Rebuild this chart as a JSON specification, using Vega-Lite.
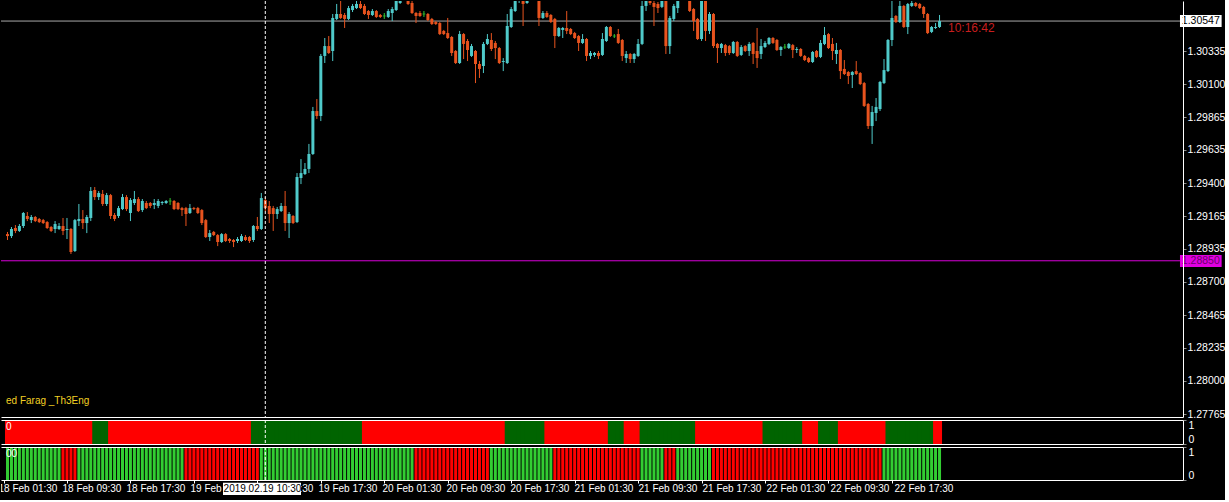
{
  "$schema": "https://vega.github.io/schema/vega-lite/v6.json",
  "background": "#000000",
  "padding": 0,
  "autosize": {"type": "pad"},
  "spacing": 3,
  "bounds": "flush",
  "resolve": {"scale": {"color": "independent"}},
  "config": {
    "view": {"stroke": null},
    "axis": {"grid": false, "labelFont": "Liberation Sans", "domainWidth": 1},
    "text": {"font": "Liberation Sans"}
  },
  "data": {
    "format": {"parse": {"t": "utc:'%Y-%m-%d %H:%M'"}},
    "values": [
      {"t":"2019-02-18 02:00","o":1.29039,"h":1.29054,"l":1.28997,"c":1.29025,"a":0,"b":1},
      {"t":"2019-02-18 02:30","o":1.29025,"h":1.29089,"l":1.29011,"c":1.29075,"a":0,"b":1},
      {"t":"2019-02-18 03:00","o":1.29082,"h":1.29103,"l":1.29046,"c":1.29061,"a":0,"b":1},
      {"t":"2019-02-18 03:30","o":1.29061,"h":1.29110,"l":1.29054,"c":1.29096,"a":0,"b":1},
      {"t":"2019-02-18 04:00","o":1.29096,"h":1.29195,"l":1.29082,"c":1.29188,"a":0,"b":1},
      {"t":"2019-02-18 04:30","o":1.29167,"h":1.29195,"l":1.29131,"c":1.29146,"a":0,"b":1},
      {"t":"2019-02-18 05:00","o":1.29138,"h":1.29174,"l":1.29117,"c":1.29160,"a":0,"b":1},
      {"t":"2019-02-18 05:30","o":1.29160,"h":1.29167,"l":1.29124,"c":1.29131,"a":0,"b":1},
      {"t":"2019-02-18 06:00","o":1.29146,"h":1.29153,"l":1.29117,"c":1.29124,"a":0,"b":1},
      {"t":"2019-02-18 06:30","o":1.29138,"h":1.29146,"l":1.29110,"c":1.29117,"a":0,"b":1},
      {"t":"2019-02-18 07:00","o":1.29124,"h":1.29131,"l":1.29075,"c":1.29082,"a":0,"b":1},
      {"t":"2019-02-18 07:30","o":1.29089,"h":1.29096,"l":1.29054,"c":1.29061,"a":0,"b":1},
      {"t":"2019-02-18 08:00","o":1.29075,"h":1.29131,"l":1.29046,"c":1.29110,"a":0,"b":1},
      {"t":"2019-02-18 08:30","o":1.29075,"h":1.29117,"l":1.29068,"c":1.29096,"a":0,"b":1},
      {"t":"2019-02-18 09:00","o":1.29096,"h":1.29153,"l":1.29032,"c":1.29061,"a":0,"b":0},
      {"t":"2019-02-18 09:30","o":1.29068,"h":1.29153,"l":1.29004,"c":1.29075,"a":0,"b":0},
      {"t":"2019-02-18 10:00","o":1.29075,"h":1.29082,"l":1.28898,"c":1.28912,"a":0,"b":0},
      {"t":"2019-02-18 10:30","o":1.28919,"h":1.29146,"l":1.28912,"c":1.29138,"a":0,"b":0},
      {"t":"2019-02-18 11:00","o":1.29131,"h":1.29252,"l":1.29096,"c":1.29146,"a":0,"b":1},
      {"t":"2019-02-18 11:30","o":1.29146,"h":1.29209,"l":1.29075,"c":1.29117,"a":0,"b":1},
      {"t":"2019-02-18 12:00","o":1.29117,"h":1.29174,"l":1.29046,"c":1.29160,"a":0,"b":1},
      {"t":"2019-02-18 12:30","o":1.29153,"h":1.29372,"l":1.29131,"c":1.29344,"a":0,"b":1},
      {"t":"2019-02-18 13:00","o":1.29351,"h":1.29372,"l":1.29280,"c":1.29301,"a":1,"b":1},
      {"t":"2019-02-18 13:30","o":1.29301,"h":1.29344,"l":1.29280,"c":1.29330,"a":1,"b":1},
      {"t":"2019-02-18 14:00","o":1.29323,"h":1.29351,"l":1.29238,"c":1.29252,"a":1,"b":1},
      {"t":"2019-02-18 14:30","o":1.29252,"h":1.29330,"l":1.29238,"c":1.29315,"a":1,"b":1},
      {"t":"2019-02-18 15:00","o":1.29315,"h":1.29323,"l":1.29146,"c":1.29167,"a":0,"b":1},
      {"t":"2019-02-18 15:30","o":1.29174,"h":1.29188,"l":1.29131,"c":1.29146,"a":0,"b":1},
      {"t":"2019-02-18 16:00","o":1.29167,"h":1.29238,"l":1.29153,"c":1.29223,"a":0,"b":1},
      {"t":"2019-02-18 16:30","o":1.29216,"h":1.29323,"l":1.29209,"c":1.29301,"a":0,"b":1},
      {"t":"2019-02-18 17:00","o":1.29301,"h":1.29315,"l":1.29202,"c":1.29216,"a":0,"b":1},
      {"t":"2019-02-18 17:30","o":1.29188,"h":1.29294,"l":1.29131,"c":1.29280,"a":0,"b":1},
      {"t":"2019-02-18 18:00","o":1.29259,"h":1.29344,"l":1.29245,"c":1.29287,"a":0,"b":1},
      {"t":"2019-02-18 18:30","o":1.29287,"h":1.29301,"l":1.29195,"c":1.29202,"a":0,"b":1},
      {"t":"2019-02-18 19:00","o":1.29209,"h":1.29287,"l":1.29195,"c":1.29273,"a":0,"b":1},
      {"t":"2019-02-18 19:30","o":1.29259,"h":1.29273,"l":1.29216,"c":1.29223,"a":0,"b":1},
      {"t":"2019-02-18 20:00","o":1.29259,"h":1.29266,"l":1.29223,"c":1.29238,"a":0,"b":1},
      {"t":"2019-02-18 20:30","o":1.29245,"h":1.29287,"l":1.29216,"c":1.29259,"a":0,"b":1},
      {"t":"2019-02-18 21:00","o":1.29238,"h":1.29287,"l":1.29223,"c":1.29273,"a":0,"b":1},
      {"t":"2019-02-18 21:30","o":1.29259,"h":1.29273,"l":1.29245,"c":1.29266,"a":0,"b":1},
      {"t":"2019-02-18 22:00","o":1.29259,"h":1.29280,"l":1.29252,"c":1.29273,"a":0,"b":1},
      {"t":"2019-02-18 22:30","o":1.29273,"h":1.29294,"l":1.29245,"c":1.29273,"a":0,"b":1},
      {"t":"2019-02-18 23:00","o":1.29273,"h":1.29280,"l":1.29209,"c":1.29216,"a":0,"b":1},
      {"t":"2019-02-18 23:30","o":1.29259,"h":1.29266,"l":1.29209,"c":1.29216,"a":0,"b":1},
      {"t":"2019-02-19 00:00","o":1.29223,"h":1.29231,"l":1.29167,"c":1.29209,"a":0,"b":1},
      {"t":"2019-02-19 00:30","o":1.29223,"h":1.29231,"l":1.29096,"c":1.29181,"a":0,"b":0},
      {"t":"2019-02-19 01:00","o":1.29188,"h":1.29252,"l":1.29181,"c":1.29223,"a":0,"b":0},
      {"t":"2019-02-19 01:30","o":1.29223,"h":1.29231,"l":1.29209,"c":1.29216,"a":0,"b":0},
      {"t":"2019-02-19 02:00","o":1.29223,"h":1.29231,"l":1.29181,"c":1.29188,"a":0,"b":0},
      {"t":"2019-02-19 02:30","o":1.29209,"h":1.29216,"l":1.29103,"c":1.29117,"a":0,"b":0},
      {"t":"2019-02-19 03:00","o":1.29138,"h":1.29146,"l":1.29011,"c":1.29018,"a":0,"b":0},
      {"t":"2019-02-19 03:30","o":1.29018,"h":1.29068,"l":1.28990,"c":1.29046,"a":0,"b":0},
      {"t":"2019-02-19 04:00","o":1.29054,"h":1.29061,"l":1.29025,"c":1.29032,"a":0,"b":0},
      {"t":"2019-02-19 04:30","o":1.29032,"h":1.29039,"l":1.28954,"c":1.28983,"a":0,"b":0},
      {"t":"2019-02-19 05:00","o":1.28983,"h":1.29046,"l":1.28976,"c":1.29039,"a":0,"b":0},
      {"t":"2019-02-19 05:30","o":1.29039,"h":1.29046,"l":1.28983,"c":1.28990,"a":0,"b":0},
      {"t":"2019-02-19 06:00","o":1.29004,"h":1.29011,"l":1.28976,"c":1.28990,"a":0,"b":0},
      {"t":"2019-02-19 06:30","o":1.28997,"h":1.29004,"l":1.28947,"c":1.28983,"a":0,"b":0},
      {"t":"2019-02-19 07:00","o":1.28990,"h":1.29018,"l":1.28976,"c":1.29004,"a":0,"b":0},
      {"t":"2019-02-19 07:30","o":1.28990,"h":1.29039,"l":1.28983,"c":1.29025,"a":0,"b":0},
      {"t":"2019-02-19 08:00","o":1.29018,"h":1.29032,"l":1.28990,"c":1.28997,"a":0,"b":0},
      {"t":"2019-02-19 08:30","o":1.29018,"h":1.29025,"l":1.28976,"c":1.28990,"a":0,"b":0},
      {"t":"2019-02-19 09:00","o":1.28997,"h":1.29103,"l":1.28983,"c":1.29096,"a":1,"b":0},
      {"t":"2019-02-19 09:30","o":1.29096,"h":1.29160,"l":1.29061,"c":1.29075,"a":1,"b":0},
      {"t":"2019-02-19 10:00","o":1.29075,"h":1.29330,"l":1.29068,"c":1.29294,"a":1,"b":1},
      {"t":"2019-02-19 10:30","o":1.29280,"h":1.29301,"l":1.29202,"c":1.29223,"a":1,"b":1},
      {"t":"2019-02-19 11:00","o":1.29238,"h":1.29273,"l":1.29117,"c":1.29181,"a":1,"b":1},
      {"t":"2019-02-19 11:30","o":1.29223,"h":1.29238,"l":1.29061,"c":1.29181,"a":1,"b":1},
      {"t":"2019-02-19 12:00","o":1.29181,"h":1.29231,"l":1.29146,"c":1.29216,"a":1,"b":1},
      {"t":"2019-02-19 12:30","o":1.29202,"h":1.29259,"l":1.29195,"c":1.29238,"a":1,"b":1},
      {"t":"2019-02-19 13:00","o":1.29238,"h":1.29344,"l":1.29061,"c":1.29117,"a":1,"b":1},
      {"t":"2019-02-19 13:30","o":1.29117,"h":1.29195,"l":1.29011,"c":1.29181,"a":1,"b":1},
      {"t":"2019-02-19 14:00","o":1.29167,"h":1.29174,"l":1.29110,"c":1.29117,"a":1,"b":1},
      {"t":"2019-02-19 14:30","o":1.29124,"h":1.29471,"l":1.29117,"c":1.29443,"a":1,"b":1},
      {"t":"2019-02-19 15:00","o":1.29436,"h":1.29570,"l":1.29393,"c":1.29471,"a":1,"b":1},
      {"t":"2019-02-19 15:30","o":1.29464,"h":1.29542,"l":1.29457,"c":1.29500,"a":1,"b":1},
      {"t":"2019-02-19 16:00","o":1.29500,"h":1.29677,"l":1.29471,"c":1.29606,"a":1,"b":1},
      {"t":"2019-02-19 16:30","o":1.29606,"h":1.29939,"l":1.29599,"c":1.29910,"a":1,"b":1},
      {"t":"2019-02-19 17:00","o":1.29910,"h":1.29995,"l":1.29854,"c":1.29875,"a":1,"b":1},
      {"t":"2019-02-19 17:30","o":1.29875,"h":1.30314,"l":1.29839,"c":1.30300,"a":1,"b":1},
      {"t":"2019-02-19 18:00","o":1.30300,"h":1.30427,"l":1.30250,"c":1.30370,"a":1,"b":1},
      {"t":"2019-02-19 18:30","o":1.30370,"h":1.30441,"l":1.30314,"c":1.30321,"a":1,"b":1},
      {"t":"2019-02-19 19:00","o":1.30335,"h":1.30597,"l":1.30264,"c":1.30569,"a":1,"b":1},
      {"t":"2019-02-19 19:30","o":1.30562,"h":1.30668,"l":1.30554,"c":1.30597,"a":1,"b":1},
      {"t":"2019-02-19 20:00","o":1.30597,"h":1.30703,"l":1.30562,"c":1.30569,"a":1,"b":1},
      {"t":"2019-02-19 20:30","o":1.30590,"h":1.30604,"l":1.30498,"c":1.30562,"a":1,"b":1},
      {"t":"2019-02-19 21:00","o":1.30562,"h":1.30654,"l":1.30554,"c":1.30639,"a":1,"b":1},
      {"t":"2019-02-19 21:30","o":1.30625,"h":1.30668,"l":1.30611,"c":1.30654,"a":1,"b":1},
      {"t":"2019-02-19 22:00","o":1.30639,"h":1.30689,"l":1.30632,"c":1.30668,"a":1,"b":1},
      {"t":"2019-02-19 22:30","o":1.30668,"h":1.30710,"l":1.30632,"c":1.30639,"a":1,"b":1},
      {"t":"2019-02-19 23:00","o":1.30654,"h":1.30668,"l":1.30590,"c":1.30597,"a":0,"b":1},
      {"t":"2019-02-19 23:30","o":1.30618,"h":1.30625,"l":1.30562,"c":1.30590,"a":0,"b":1},
      {"t":"2019-02-20 00:00","o":1.30590,"h":1.30632,"l":1.30583,"c":1.30618,"a":0,"b":1},
      {"t":"2019-02-20 00:30","o":1.30618,"h":1.30625,"l":1.30569,"c":1.30576,"a":0,"b":1},
      {"t":"2019-02-20 01:00","o":1.30590,"h":1.30597,"l":1.30569,"c":1.30576,"a":0,"b":1},
      {"t":"2019-02-20 01:30","o":1.30583,"h":1.30604,"l":1.30562,"c":1.30583,"a":0,"b":1},
      {"t":"2019-02-20 02:00","o":1.30576,"h":1.30632,"l":1.30569,"c":1.30618,"a":0,"b":1},
      {"t":"2019-02-20 02:30","o":1.30604,"h":1.30647,"l":1.30547,"c":1.30632,"a":0,"b":1},
      {"t":"2019-02-20 03:00","o":1.30625,"h":1.30724,"l":1.30618,"c":1.30703,"a":0,"b":1},
      {"t":"2019-02-20 03:30","o":1.30675,"h":1.30746,"l":1.30668,"c":1.30724,"a":0,"b":1},
      {"t":"2019-02-20 04:00","o":1.30724,"h":1.30767,"l":1.30710,"c":1.30746,"a":0,"b":1},
      {"t":"2019-02-20 04:30","o":1.30731,"h":1.30746,"l":1.30661,"c":1.30668,"a":0,"b":1},
      {"t":"2019-02-20 05:00","o":1.30675,"h":1.30689,"l":1.30597,"c":1.30604,"a":0,"b":1},
      {"t":"2019-02-20 05:30","o":1.30604,"h":1.30611,"l":1.30533,"c":1.30583,"a":0,"b":0},
      {"t":"2019-02-20 06:00","o":1.30604,"h":1.30618,"l":1.30576,"c":1.30583,"a":0,"b":0},
      {"t":"2019-02-20 06:30","o":1.30597,"h":1.30618,"l":1.30576,"c":1.30597,"a":0,"b":0},
      {"t":"2019-02-20 07:00","o":1.30597,"h":1.30604,"l":1.30547,"c":1.30554,"a":0,"b":0},
      {"t":"2019-02-20 07:30","o":1.30562,"h":1.30569,"l":1.30519,"c":1.30526,"a":0,"b":0},
      {"t":"2019-02-20 08:00","o":1.30540,"h":1.30547,"l":1.30519,"c":1.30526,"a":0,"b":0},
      {"t":"2019-02-20 08:30","o":1.30533,"h":1.30540,"l":1.30448,"c":1.30455,"a":0,"b":0},
      {"t":"2019-02-20 09:00","o":1.30477,"h":1.30484,"l":1.30448,"c":1.30455,"a":0,"b":0},
      {"t":"2019-02-20 09:30","o":1.30462,"h":1.30569,"l":1.30420,"c":1.30427,"a":0,"b":0},
      {"t":"2019-02-20 10:00","o":1.30434,"h":1.30441,"l":1.30300,"c":1.30321,"a":0,"b":0},
      {"t":"2019-02-20 10:30","o":1.30335,"h":1.30342,"l":1.30243,"c":1.30250,"a":0,"b":0},
      {"t":"2019-02-20 11:00","o":1.30250,"h":1.30477,"l":1.30243,"c":1.30455,"a":0,"b":0},
      {"t":"2019-02-20 11:30","o":1.30455,"h":1.30462,"l":1.30278,"c":1.30385,"a":0,"b":0},
      {"t":"2019-02-20 12:00","o":1.30406,"h":1.30420,"l":1.30264,"c":1.30342,"a":0,"b":0},
      {"t":"2019-02-20 12:30","o":1.30300,"h":1.30385,"l":1.30293,"c":1.30370,"a":0,"b":0},
      {"t":"2019-02-20 13:00","o":1.30335,"h":1.30342,"l":1.30108,"c":1.30243,"a":0,"b":0},
      {"t":"2019-02-20 13:30","o":1.30243,"h":1.30264,"l":1.30144,"c":1.30208,"a":0,"b":0},
      {"t":"2019-02-20 14:00","o":1.30229,"h":1.30399,"l":1.30179,"c":1.30385,"a":0,"b":0},
      {"t":"2019-02-20 14:30","o":1.30385,"h":1.30455,"l":1.30377,"c":1.30420,"a":0,"b":0},
      {"t":"2019-02-20 15:00","o":1.30413,"h":1.30462,"l":1.30335,"c":1.30349,"a":0,"b":1},
      {"t":"2019-02-20 15:30","o":1.30392,"h":1.30406,"l":1.30278,"c":1.30356,"a":0,"b":1},
      {"t":"2019-02-20 16:00","o":1.30356,"h":1.30363,"l":1.30243,"c":1.30250,"a":0,"b":1},
      {"t":"2019-02-20 16:30","o":1.30257,"h":1.30285,"l":1.30193,"c":1.30264,"a":0,"b":1},
      {"t":"2019-02-20 17:00","o":1.30250,"h":1.30597,"l":1.30243,"c":1.30512,"a":1,"b":1},
      {"t":"2019-02-20 17:30","o":1.30505,"h":1.30647,"l":1.30498,"c":1.30632,"a":1,"b":1},
      {"t":"2019-02-20 18:00","o":1.30618,"h":1.30731,"l":1.30611,"c":1.30710,"a":1,"b":1},
      {"t":"2019-02-20 18:30","o":1.30696,"h":1.30774,"l":1.30675,"c":1.30746,"a":1,"b":1},
      {"t":"2019-02-20 19:00","o":1.30731,"h":1.30760,"l":1.30512,"c":1.30668,"a":1,"b":1},
      {"t":"2019-02-20 19:30","o":1.30675,"h":1.30760,"l":1.30668,"c":1.30731,"a":1,"b":1},
      {"t":"2019-02-20 20:00","o":1.30731,"h":1.30795,"l":1.30717,"c":1.30774,"a":1,"b":1},
      {"t":"2019-02-20 20:30","o":1.30760,"h":1.30788,"l":1.30703,"c":1.30717,"a":1,"b":1},
      {"t":"2019-02-20 21:00","o":1.30717,"h":1.30731,"l":1.30512,"c":1.30569,"a":1,"b":1},
      {"t":"2019-02-20 21:30","o":1.30569,"h":1.30618,"l":1.30562,"c":1.30604,"a":1,"b":1},
      {"t":"2019-02-20 22:00","o":1.30604,"h":1.30618,"l":1.30569,"c":1.30576,"a":0,"b":1},
      {"t":"2019-02-20 22:30","o":1.30590,"h":1.30597,"l":1.30533,"c":1.30540,"a":0,"b":1},
      {"t":"2019-02-20 23:00","o":1.30562,"h":1.30569,"l":1.30356,"c":1.30441,"a":0,"b":0},
      {"t":"2019-02-20 23:30","o":1.30441,"h":1.30505,"l":1.30434,"c":1.30498,"a":0,"b":0},
      {"t":"2019-02-21 00:00","o":1.30484,"h":1.30505,"l":1.30427,"c":1.30498,"a":0,"b":0},
      {"t":"2019-02-21 00:30","o":1.30498,"h":1.30618,"l":1.30455,"c":1.30477,"a":0,"b":0},
      {"t":"2019-02-21 01:00","o":1.30491,"h":1.30498,"l":1.30448,"c":1.30455,"a":0,"b":0},
      {"t":"2019-02-21 01:30","o":1.30462,"h":1.30470,"l":1.30420,"c":1.30427,"a":0,"b":0},
      {"t":"2019-02-21 02:00","o":1.30441,"h":1.30448,"l":1.30335,"c":1.30392,"a":0,"b":0},
      {"t":"2019-02-21 02:30","o":1.30392,"h":1.30455,"l":1.30385,"c":1.30420,"a":0,"b":0},
      {"t":"2019-02-21 03:00","o":1.30420,"h":1.30427,"l":1.30264,"c":1.30300,"a":0,"b":0},
      {"t":"2019-02-21 03:30","o":1.30300,"h":1.30335,"l":1.30278,"c":1.30321,"a":0,"b":0},
      {"t":"2019-02-21 04:00","o":1.30307,"h":1.30328,"l":1.30293,"c":1.30321,"a":0,"b":0},
      {"t":"2019-02-21 04:30","o":1.30321,"h":1.30335,"l":1.30278,"c":1.30300,"a":0,"b":0},
      {"t":"2019-02-21 05:00","o":1.30307,"h":1.30462,"l":1.30300,"c":1.30420,"a":0,"b":0},
      {"t":"2019-02-21 05:30","o":1.30406,"h":1.30512,"l":1.30399,"c":1.30505,"a":0,"b":0},
      {"t":"2019-02-21 06:00","o":1.30505,"h":1.30512,"l":1.30434,"c":1.30441,"a":1,"b":0},
      {"t":"2019-02-21 06:30","o":1.30441,"h":1.30455,"l":1.30427,"c":1.30441,"a":1,"b":0},
      {"t":"2019-02-21 07:00","o":1.30455,"h":1.30491,"l":1.30385,"c":1.30392,"a":1,"b":0},
      {"t":"2019-02-21 07:30","o":1.30413,"h":1.30420,"l":1.30264,"c":1.30300,"a":1,"b":0},
      {"t":"2019-02-21 08:00","o":1.30285,"h":1.30335,"l":1.30250,"c":1.30314,"a":0,"b":0},
      {"t":"2019-02-21 08:30","o":1.30314,"h":1.30321,"l":1.30250,"c":1.30278,"a":0,"b":0},
      {"t":"2019-02-21 09:00","o":1.30278,"h":1.30321,"l":1.30250,"c":1.30314,"a":0,"b":0},
      {"t":"2019-02-21 09:30","o":1.30300,"h":1.30420,"l":1.30293,"c":1.30385,"a":0,"b":0},
      {"t":"2019-02-21 10:00","o":1.30385,"h":1.30689,"l":1.30377,"c":1.30654,"a":1,"b":1},
      {"t":"2019-02-21 10:30","o":1.30654,"h":1.30731,"l":1.30618,"c":1.30710,"a":1,"b":1},
      {"t":"2019-02-21 11:00","o":1.30731,"h":1.30746,"l":1.30661,"c":1.30675,"a":1,"b":1},
      {"t":"2019-02-21 11:30","o":1.30675,"h":1.30689,"l":1.30512,"c":1.30647,"a":1,"b":1},
      {"t":"2019-02-21 12:00","o":1.30668,"h":1.30682,"l":1.30604,"c":1.30639,"a":1,"b":1},
      {"t":"2019-02-21 12:30","o":1.30647,"h":1.30731,"l":1.30639,"c":1.30717,"a":1,"b":1},
      {"t":"2019-02-21 13:00","o":1.30717,"h":1.30731,"l":1.30314,"c":1.30370,"a":1,"b":0},
      {"t":"2019-02-21 13:30","o":1.30370,"h":1.30583,"l":1.30314,"c":1.30569,"a":1,"b":0},
      {"t":"2019-02-21 14:00","o":1.30562,"h":1.30668,"l":1.30547,"c":1.30654,"a":1,"b":0},
      {"t":"2019-02-21 14:30","o":1.30639,"h":1.30731,"l":1.30604,"c":1.30717,"a":1,"b":1},
      {"t":"2019-02-21 15:00","o":1.30717,"h":1.30788,"l":1.30703,"c":1.30760,"a":1,"b":1},
      {"t":"2019-02-21 15:30","o":1.30760,"h":1.30788,"l":1.30710,"c":1.30731,"a":1,"b":1},
      {"t":"2019-02-21 16:00","o":1.30731,"h":1.30746,"l":1.30611,"c":1.30618,"a":1,"b":1},
      {"t":"2019-02-21 16:30","o":1.30632,"h":1.30639,"l":1.30477,"c":1.30547,"a":1,"b":1},
      {"t":"2019-02-21 17:00","o":1.30562,"h":1.30569,"l":1.30413,"c":1.30420,"a":0,"b":1},
      {"t":"2019-02-21 17:30","o":1.30420,"h":1.30717,"l":1.30406,"c":1.30703,"a":0,"b":1},
      {"t":"2019-02-21 18:00","o":1.30703,"h":1.30717,"l":1.30406,"c":1.30477,"a":0,"b":1},
      {"t":"2019-02-21 18:30","o":1.30477,"h":1.30611,"l":1.30455,"c":1.30597,"a":0,"b":1},
      {"t":"2019-02-21 19:00","o":1.30597,"h":1.30604,"l":1.30356,"c":1.30370,"a":0,"b":0},
      {"t":"2019-02-21 19:30","o":1.30385,"h":1.30392,"l":1.30250,"c":1.30356,"a":0,"b":0},
      {"t":"2019-02-21 20:00","o":1.30356,"h":1.30392,"l":1.30321,"c":1.30385,"a":0,"b":0},
      {"t":"2019-02-21 20:30","o":1.30377,"h":1.30385,"l":1.30300,"c":1.30321,"a":0,"b":0},
      {"t":"2019-02-21 21:00","o":1.30370,"h":1.30377,"l":1.30307,"c":1.30321,"a":0,"b":0},
      {"t":"2019-02-21 21:30","o":1.30321,"h":1.30406,"l":1.30314,"c":1.30399,"a":0,"b":0},
      {"t":"2019-02-21 22:00","o":1.30399,"h":1.30406,"l":1.30293,"c":1.30300,"a":0,"b":0},
      {"t":"2019-02-21 22:30","o":1.30307,"h":1.30377,"l":1.30300,"c":1.30363,"a":0,"b":0},
      {"t":"2019-02-21 23:00","o":1.30370,"h":1.30377,"l":1.30328,"c":1.30335,"a":0,"b":0},
      {"t":"2019-02-21 23:30","o":1.30335,"h":1.30399,"l":1.30300,"c":1.30385,"a":0,"b":0},
      {"t":"2019-02-22 00:00","o":1.30392,"h":1.30399,"l":1.30243,"c":1.30314,"a":0,"b":0},
      {"t":"2019-02-22 00:30","o":1.30335,"h":1.30498,"l":1.30215,"c":1.30285,"a":0,"b":0},
      {"t":"2019-02-22 01:00","o":1.30314,"h":1.30420,"l":1.30278,"c":1.30370,"a":0,"b":0},
      {"t":"2019-02-22 01:30","o":1.30363,"h":1.30406,"l":1.30356,"c":1.30392,"a":1,"b":0},
      {"t":"2019-02-22 02:00","o":1.30385,"h":1.30434,"l":1.30377,"c":1.30427,"a":1,"b":0},
      {"t":"2019-02-22 02:30","o":1.30427,"h":1.30434,"l":1.30385,"c":1.30392,"a":1,"b":0},
      {"t":"2019-02-22 03:00","o":1.30413,"h":1.30420,"l":1.30335,"c":1.30342,"a":1,"b":0},
      {"t":"2019-02-22 03:30","o":1.30342,"h":1.30370,"l":1.30300,"c":1.30363,"a":1,"b":0},
      {"t":"2019-02-22 04:00","o":1.30363,"h":1.30385,"l":1.30349,"c":1.30363,"a":1,"b":0},
      {"t":"2019-02-22 04:30","o":1.30356,"h":1.30392,"l":1.30349,"c":1.30385,"a":1,"b":0},
      {"t":"2019-02-22 05:00","o":1.30377,"h":1.30385,"l":1.30285,"c":1.30342,"a":1,"b":0},
      {"t":"2019-02-22 05:30","o":1.30342,"h":1.30363,"l":1.30321,"c":1.30349,"a":1,"b":0},
      {"t":"2019-02-22 06:00","o":1.30349,"h":1.30356,"l":1.30293,"c":1.30300,"a":1,"b":0},
      {"t":"2019-02-22 06:30","o":1.30300,"h":1.30307,"l":1.30264,"c":1.30271,"a":0,"b":0},
      {"t":"2019-02-22 07:00","o":1.30285,"h":1.30293,"l":1.30250,"c":1.30257,"a":0,"b":0},
      {"t":"2019-02-22 07:30","o":1.30257,"h":1.30335,"l":1.30250,"c":1.30328,"a":0,"b":0},
      {"t":"2019-02-22 08:00","o":1.30335,"h":1.30342,"l":1.30285,"c":1.30293,"a":0,"b":0},
      {"t":"2019-02-22 08:30","o":1.30293,"h":1.30413,"l":1.30285,"c":1.30392,"a":1,"b":0},
      {"t":"2019-02-22 09:00","o":1.30385,"h":1.30505,"l":1.30377,"c":1.30448,"a":1,"b":0},
      {"t":"2019-02-22 09:30","o":1.30455,"h":1.30462,"l":1.30349,"c":1.30356,"a":1,"b":0},
      {"t":"2019-02-22 10:00","o":1.30385,"h":1.30427,"l":1.30271,"c":1.30335,"a":1,"b":0},
      {"t":"2019-02-22 10:30","o":1.30314,"h":1.30392,"l":1.30243,"c":1.30342,"a":1,"b":0},
      {"t":"2019-02-22 11:00","o":1.30342,"h":1.30349,"l":1.30137,"c":1.30193,"a":0,"b":0},
      {"t":"2019-02-22 11:30","o":1.30208,"h":1.30271,"l":1.30165,"c":1.30172,"a":0,"b":0},
      {"t":"2019-02-22 12:00","o":1.30186,"h":1.30193,"l":1.30101,"c":1.30158,"a":0,"b":0},
      {"t":"2019-02-22 12:30","o":1.30165,"h":1.30193,"l":1.30073,"c":1.30186,"a":0,"b":0},
      {"t":"2019-02-22 13:00","o":1.30193,"h":1.30264,"l":1.30165,"c":1.30172,"a":0,"b":0},
      {"t":"2019-02-22 13:30","o":1.30179,"h":1.30186,"l":1.30094,"c":1.30101,"a":0,"b":0},
      {"t":"2019-02-22 14:00","o":1.30108,"h":1.30116,"l":1.29939,"c":1.29946,"a":0,"b":0},
      {"t":"2019-02-22 14:30","o":1.29960,"h":1.29967,"l":1.29783,"c":1.29804,"a":0,"b":0},
      {"t":"2019-02-22 15:00","o":1.29804,"h":1.29946,"l":1.29677,"c":1.29903,"a":0,"b":0},
      {"t":"2019-02-22 15:30","o":1.29896,"h":1.30002,"l":1.29839,"c":1.29939,"a":0,"b":0},
      {"t":"2019-02-22 16:00","o":1.29924,"h":1.30123,"l":1.29910,"c":1.30116,"a":0,"b":0},
      {"t":"2019-02-22 16:30","o":1.30108,"h":1.30278,"l":1.30101,"c":1.30200,"a":0,"b":1},
      {"t":"2019-02-22 17:00","o":1.30193,"h":1.30420,"l":1.30186,"c":1.30413,"a":1,"b":1},
      {"t":"2019-02-22 17:30","o":1.30413,"h":1.30689,"l":1.30370,"c":1.30569,"a":1,"b":1},
      {"t":"2019-02-22 18:00","o":1.30583,"h":1.30590,"l":1.30533,"c":1.30540,"a":1,"b":1},
      {"t":"2019-02-22 18:30","o":1.30540,"h":1.30689,"l":1.30533,"c":1.30654,"a":1,"b":1},
      {"t":"2019-02-22 19:00","o":1.30654,"h":1.30661,"l":1.30498,"c":1.30505,"a":1,"b":1},
      {"t":"2019-02-22 19:30","o":1.30505,"h":1.30675,"l":1.30455,"c":1.30668,"a":1,"b":1},
      {"t":"2019-02-22 20:00","o":1.30654,"h":1.30689,"l":1.30647,"c":1.30675,"a":1,"b":1},
      {"t":"2019-02-22 20:30","o":1.30675,"h":1.30682,"l":1.30647,"c":1.30654,"a":1,"b":1},
      {"t":"2019-02-22 21:00","o":1.30668,"h":1.30675,"l":1.30632,"c":1.30639,"a":1,"b":1},
      {"t":"2019-02-22 21:30","o":1.30647,"h":1.30654,"l":1.30569,"c":1.30597,"a":1,"b":1},
      {"t":"2019-02-22 22:00","o":1.30597,"h":1.30604,"l":1.30455,"c":1.30462,"a":1,"b":1},
      {"t":"2019-02-22 22:30","o":1.30470,"h":1.30512,"l":1.30462,"c":1.30505,"a":1,"b":1},
      {"t":"2019-02-22 23:00","o":1.30498,"h":1.30533,"l":1.30491,"c":1.30505,"a":0,"b":1},
      {"t":"2019-02-22 23:30","o":1.30505,"h":1.30590,"l":1.30498,"c":1.30547,"a":0,"b":1}
    ]
  },
  "vconcat": [
    {
      "width": 1182,
      "height": 416,
      "layer": [
        {
          "data": {"values": [{}]},
          "mark": {"type": "rule", "color": "#d800d8", "strokeWidth": 1},
          "encoding": {
            "y": {
              "datum": 1.2885, "type": "quantitative", "title": null,
              "scale": {"domain": [1.27744, 1.30689], "zero": false, "nice": false},
              "axis": {
                "orient": "right", "title": null, "zindex": 1,
                "values": [1.30335, 1.301, 1.29865, 1.29635, 1.294, 1.29165, 1.28935, 1.287, 1.28465, 1.28235, 1.28, 1.27765],
                "tickCount": 100,
                "format": ".5f", "labelFontSize": 10.5, "labelColor": "#ffffff",
                "labelOverlap": false, "labelBound": false, "labelFlush": false,
                "tickSize": 3, "tickColor": "#8a8a8a", "labelPadding": 1,
                "domainColor": "#ffffff", "labelBaseline": "middle"
              }
            }
          }
        },
        {
          "data": {"values": [{}]},
          "mark": {"type": "rule", "color": "#a8a8a8", "strokeWidth": 1},
          "encoding": {"y": {"datum": 1.30547, "type": "quantitative", "title": null}}
        },
        {
          "mark": {"type": "rule", "clip": true, "strokeWidth": 1},
          "encoding": {
            "x": {
              "field": "t", "type": "temporal", "title": null,
              "scale": {"type": "utc", "domain": [
                {"year": 2019, "month": 2, "date": 18, "hours": 1, "minutes": 48, "seconds": 45, "utc": true},
                {"year": 2019, "month": 2, "date": 24, "hours": 5, "minutes": 33, "seconds": 45, "utc": true}
              ]},
              "axis": {"orient": "bottom", "labels": false, "ticks": false, "domainColor": "#ffffff", "zindex": 1, "title": null}
            },
            "y": {"field": "l", "type": "quantitative", "title": null},
            "y2": {"field": "h"},
            "color": {
              "condition": [
                {"test": "datum.c == datum.o", "value": "#32cd32"},
                {"test": "datum.c > datum.o", "value": "#4fcaca"}
              ],
              "value": "#e8531e"
            }
          }
        },
        {
          "mark": {"type": "bar", "size": 3, "clip": true},
          "encoding": {
            "x": {"field": "t", "type": "temporal", "title": null},
            "y": {"field": "o", "type": "quantitative", "title": null},
            "y2": {"field": "c"},
            "color": {
              "condition": [
                {"test": "datum.c == datum.o", "value": "#32cd32"},
                {"test": "datum.c > datum.o", "value": "#4fcaca"}
              ],
              "value": "#e8531e"
            }
          }
        },
        {
          "transform": [{"filter": "datum.o == datum.c"}],
          "mark": {"type": "tick", "orient": "horizontal", "size": 3, "thickness": 1, "clip": true, "color": "#32cd32"},
          "encoding": {
            "x": {"field": "t", "type": "temporal", "title": null},
            "y": {"field": "c", "type": "quantitative", "title": null}
          }
        },
        {
          "data": {"values": [{}]},
          "mark": {"type": "rule", "color": "#ffffff", "strokeDash": [3, 2]},
          "encoding": {
            "x": {"datum": {"year": 2019, "month": 2, "date": 19, "hours": 10, "minutes": 30, "utc": true}, "type": "temporal", "title": null}
          }
        },
        {
          "data": {"values": [{"label": "ed Farag  _Th3Eng"}]},
          "mark": {"type": "text", "align": "left", "baseline": "middle", "color": "#f2d024", "fontSize": 10, "clip": true},
          "encoding": {
            "x": {"datum": {"year": 2019, "month": 2, "date": 18, "hours": 1, "minutes": 48, "seconds": 45, "utc": true}, "type": "temporal", "title": null},
            "y": {"datum": 1.27857, "type": "quantitative", "title": null},
            "text": {"field": "label"}
          }
        },
        {
          "data": {"values": [{"label": "10:16:42"}]},
          "mark": {"type": "text", "align": "left", "baseline": "middle", "color": "#c81e1e", "fontSize": 12},
          "encoding": {
            "x": {"datum": {"year": 2019, "month": 2, "date": 23, "hours": 0, "minutes": 33, "seconds": 45, "utc": true}, "type": "temporal", "title": null},
            "y": {"datum": 1.30498, "type": "quantitative", "title": null},
            "text": {"field": "label"}
          }
        },
        {
          "data": {"values": [{"top": 1.3059, "bottom": 1.30505}]},
          "mark": {"type": "rect", "color": "#ffffff"},
          "encoding": {
            "x": {"datum": {"year": 2019, "month": 2, "date": 24, "hours": 5, "minutes": 48, "seconds": 45, "utc": true}, "type": "temporal", "title": null},
            "x2": {"datum": {"year": 2019, "month": 2, "date": 24, "hours": 11, "minutes": 3, "seconds": 45, "utc": true}},
            "y": {"field": "top", "type": "quantitative", "title": null},
            "y2": {"field": "bottom"}
          }
        },
        {
          "data": {"values": [{"top": 1.28891, "bottom": 1.28806}]},
          "mark": {"type": "rect", "color": "#e000e0"},
          "encoding": {
            "x": {"datum": {"year": 2019, "month": 2, "date": 24, "hours": 5, "minutes": 48, "seconds": 45, "utc": true}, "type": "temporal", "title": null},
            "x2": {"datum": {"year": 2019, "month": 2, "date": 24, "hours": 11, "minutes": 3, "seconds": 45, "utc": true}},
            "y": {"field": "top", "type": "quantitative", "title": null},
            "y2": {"field": "bottom"}
          }
        },
        {
          "data": {"values": [{"price": 1.30547}]},
          "mark": {"type": "text", "align": "center", "baseline": "middle", "fontSize": 10.5, "color": "#000000"},
          "encoding": {
            "x": {"datum": {"year": 2019, "month": 2, "date": 24, "hours": 8, "minutes": 26, "seconds": 15, "utc": true}, "type": "temporal", "title": null},
            "y": {"field": "price", "type": "quantitative", "title": null},
            "text": {"field": "price", "type": "quantitative", "format": ".5f"}
          }
        },
        {
          "data": {"values": [{"price": 1.2885}]},
          "mark": {"type": "text", "align": "center", "baseline": "middle", "fontSize": 10.5, "color": "#6a006a"},
          "encoding": {
            "x": {"datum": {"year": 2019, "month": 2, "date": 24, "hours": 8, "minutes": 26, "seconds": 15, "utc": true}, "type": "temporal", "title": null},
            "y": {"field": "price", "type": "quantitative", "title": null},
            "text": {"field": "price", "type": "quantitative", "format": ".5f"}
          }
        }
      ]
    },
    {
      "width": 1182,
      "height": 24,
      "resolve": {"axis": {"x": "independent"}},
      "layer": [
        {
          "mark": {"type": "bar", "size": 5, "clip": true},
          "encoding": {
            "x": {
              "field": "t", "type": "temporal", "title": null,
              "scale": {"type": "utc", "domain": [
                {"year": 2019, "month": 2, "date": 18, "hours": 1, "minutes": 48, "seconds": 45, "utc": true},
                {"year": 2019, "month": 2, "date": 24, "hours": 5, "minutes": 33, "seconds": 45, "utc": true}
              ]},
              "axis": {"orient": "top", "labels": false, "ticks": false, "domainColor": "#ffffff", "zindex": 1, "title": null}
            },
            "y": {
              "datum": 1, "type": "quantitative", "title": null,
              "scale": {"domain": [0, 1], "nice": false},
              "axis": {
                "orient": "right", "title": null, "zindex": 1, "values": [0, 1], "format": "d",
                "labelFlush": true, "labelFontSize": 10.5, "labelColor": "#ffffff",
                "tickSize": 3, "tickColor": "#8a8a8a", "labelPadding": 2, "domainColor": "#ffffff"
              }
            },
            "color": {"field": "a", "type": "nominal", "scale": {"domain": [0, 1], "range": ["#ff0000", "#006400"]}, "legend": null}
          }
        },
        {
          "data": {"values": [{"label": "0"}]},
          "mark": {"type": "text", "align": "left", "baseline": "middle", "color": "#ffffff", "fontSize": 10, "clip": true},
          "encoding": {
            "x": {"datum": {"year": 2019, "month": 2, "date": 18, "hours": 1, "minutes": 48, "seconds": 45, "utc": true}, "type": "temporal", "title": null, "axis": null},
            "y": {"datum": 0.72, "type": "quantitative", "title": null},
            "text": {"field": "label"}
          }
        },
        {
          "data": {"values": [{}]},
          "mark": {"type": "rule", "color": "#ffffff", "strokeDash": [3, 2]},
          "encoding": {
            "x": {
              "datum": {"year": 2019, "month": 2, "date": 19, "hours": 10, "minutes": 30, "utc": true}, "type": "temporal", "title": null,
              "axis": {"orient": "bottom", "labels": false, "ticks": false, "domainColor": "#ffffff", "zindex": 1, "title": null}
            }
          }
        }
      ]
    },
    {
      "width": 1182,
      "height": 33,
      "resolve": {"axis": {"x": "independent"}},
      "layer": [
        {
          "mark": {"type": "bar", "size": 3, "clip": true},
          "encoding": {
            "x": {
              "field": "t", "type": "temporal", "title": null,
              "scale": {"type": "utc", "domain": [
                {"year": 2019, "month": 2, "date": 18, "hours": 1, "minutes": 48, "seconds": 45, "utc": true},
                {"year": 2019, "month": 2, "date": 24, "hours": 5, "minutes": 33, "seconds": 45, "utc": true}
              ]},
              "axis": {"orient": "top", "labels": false, "ticks": false, "domainColor": "#ffffff", "zindex": 1, "title": null}
            },
            "y": {
              "datum": 1, "type": "quantitative", "title": null,
              "scale": {"domain": [0, 1], "nice": false},
              "axis": {
                "orient": "right", "title": null, "zindex": 1, "values": [0, 1], "format": "d",
                "labelFlush": true, "labelFontSize": 10.5, "labelColor": "#ffffff",
                "tickSize": 3, "tickColor": "#8a8a8a", "labelPadding": 2, "domainColor": "#ffffff"
              }
            },
            "color": {"field": "b", "type": "nominal", "scale": {"domain": [0, 1], "range": ["#ff0000", "#32cd32"]}, "legend": null}
          }
        },
        {
          "data": {"values": [{"label": "00"}]},
          "mark": {"type": "text", "align": "left", "baseline": "middle", "color": "#ffffff", "fontSize": 10, "clip": true},
          "encoding": {
            "x": {"datum": {"year": 2019, "month": 2, "date": 18, "hours": 1, "minutes": 48, "seconds": 45, "utc": true}, "type": "temporal", "title": null, "axis": null},
            "y": {"datum": 0.8, "type": "quantitative", "title": null},
            "text": {"field": "label"}
          }
        },
        {
          "data": {"values": [{}]},
          "mark": {"type": "rule", "color": "#ffffff", "strokeDash": [3, 2]},
          "encoding": {
            "x": {
              "datum": {"year": 2019, "month": 2, "date": 19, "hours": 10, "minutes": 30, "utc": true}, "type": "temporal", "title": null,
              "axis": {
                "orient": "bottom", "title": null, "zindex": 0, "labels": false, "tickCount": 100,
                "values": [
                  {"year": 2019, "month": 2, "date": 18, "hours": 1, "minutes": 30, "utc": true},
                  {"year": 2019, "month": 2, "date": 18, "hours": 9, "minutes": 30, "utc": true},
                  {"year": 2019, "month": 2, "date": 18, "hours": 17, "minutes": 30, "utc": true},
                  {"year": 2019, "month": 2, "date": 19, "hours": 1, "minutes": 30, "utc": true},
                  {"year": 2019, "month": 2, "date": 19, "hours": 9, "minutes": 30, "utc": true},
                  {"year": 2019, "month": 2, "date": 19, "hours": 17, "minutes": 30, "utc": true},
                  {"year": 2019, "month": 2, "date": 20, "hours": 1, "minutes": 30, "utc": true},
                  {"year": 2019, "month": 2, "date": 20, "hours": 9, "minutes": 30, "utc": true},
                  {"year": 2019, "month": 2, "date": 20, "hours": 17, "minutes": 30, "utc": true},
                  {"year": 2019, "month": 2, "date": 21, "hours": 1, "minutes": 30, "utc": true},
                  {"year": 2019, "month": 2, "date": 21, "hours": 9, "minutes": 30, "utc": true},
                  {"year": 2019, "month": 2, "date": 21, "hours": 17, "minutes": 30, "utc": true},
                  {"year": 2019, "month": 2, "date": 22, "hours": 1, "minutes": 30, "utc": true},
                  {"year": 2019, "month": 2, "date": 22, "hours": 9, "minutes": 30, "utc": true},
                  {"year": 2019, "month": 2, "date": 22, "hours": 17, "minutes": 30, "utc": true}
                ],
                "tickSize": 3, "tickColor": "#ffffff", "domainColor": "#ffffff"
              }
            }
          }
        }
      ]
    },
    {
      "width": 1182,
      "height": 17,
      "layer": [
        {
          "data": {
            "format": {"parse": {"tick": "utc:'%Y-%m-%d %H:%M'"}},
            "values": [
              {"tick": "2019-02-18 01:30", "label": "18 Feb 01:30"},
              {"tick": "2019-02-18 09:30", "label": "18 Feb 09:30"},
              {"tick": "2019-02-18 17:30", "label": "18 Feb 17:30"},
              {"tick": "2019-02-19 01:30", "label": "19 Feb 01:30"},
              {"tick": "2019-02-19 09:30", "label": "19 Feb 09:30"},
              {"tick": "2019-02-19 17:30", "label": "19 Feb 17:30"},
              {"tick": "2019-02-20 01:30", "label": "20 Feb 01:30"},
              {"tick": "2019-02-20 09:30", "label": "20 Feb 09:30"},
              {"tick": "2019-02-20 17:30", "label": "20 Feb 17:30"},
              {"tick": "2019-02-21 01:30", "label": "21 Feb 01:30"},
              {"tick": "2019-02-21 09:30", "label": "21 Feb 09:30"},
              {"tick": "2019-02-21 17:30", "label": "21 Feb 17:30"},
              {"tick": "2019-02-22 01:30", "label": "22 Feb 01:30"},
              {"tick": "2019-02-22 09:30", "label": "22 Feb 09:30"},
              {"tick": "2019-02-22 17:30", "label": "22 Feb 17:30"}
            ]
          },
          "mark": {"type": "text", "align": "left", "baseline": "middle", "color": "#ffffff", "fontSize": 10, "clip": true},
          "encoding": {
            "x": {
              "field": "tick", "type": "temporal", "title": null, "axis": null,
              "scale": {"type": "utc", "domain": [
                {"year": 2019, "month": 2, "date": 18, "hours": 1, "minutes": 48, "seconds": 45, "utc": true},
                {"year": 2019, "month": 2, "date": 24, "hours": 5, "minutes": 33, "seconds": 45, "utc": true}
              ]}
            },
            "y": {"datum": 0.65, "type": "quantitative", "title": null, "axis": null, "scale": {"domain": [0, 1], "nice": false}},
            "text": {"field": "label"}
          }
        },
        {
          "data": {"values": [{}]},
          "mark": {"type": "rect", "color": "#ffffff"},
          "encoding": {
            "x": {
              "datum": {"year": 2019, "month": 2, "date": 19, "hours": 5, "minutes": 33, "seconds": 45, "utc": true}, "type": "temporal", "title": null,
              "axis": {"orient": "bottom", "labels": false, "ticks": false, "domainColor": "#ffffff", "zindex": 1, "title": null}
            },
            "x2": {"datum": {"year": 2019, "month": 2, "date": 19, "hours": 15, "minutes": 18, "seconds": 45, "utc": true}},
            "y": {"datum": 1.02, "type": "quantitative", "title": null, "axis": null},
            "y2": {"datum": 0.3}
          }
        },
        {
          "data": {"values": [{"label": "2019.02.19 10:30"}]},
          "mark": {"type": "text", "align": "center", "baseline": "middle", "color": "#000000", "fontSize": 10},
          "encoding": {
            "x": {"datum": {"year": 2019, "month": 2, "date": 19, "hours": 10, "minutes": 30, "utc": true}, "type": "temporal", "title": null, "axis": null},
            "y": {"datum": 0.65, "type": "quantitative", "title": null, "axis": null},
            "text": {"field": "label"}
          }
        }
      ]
    }
  ]
}
